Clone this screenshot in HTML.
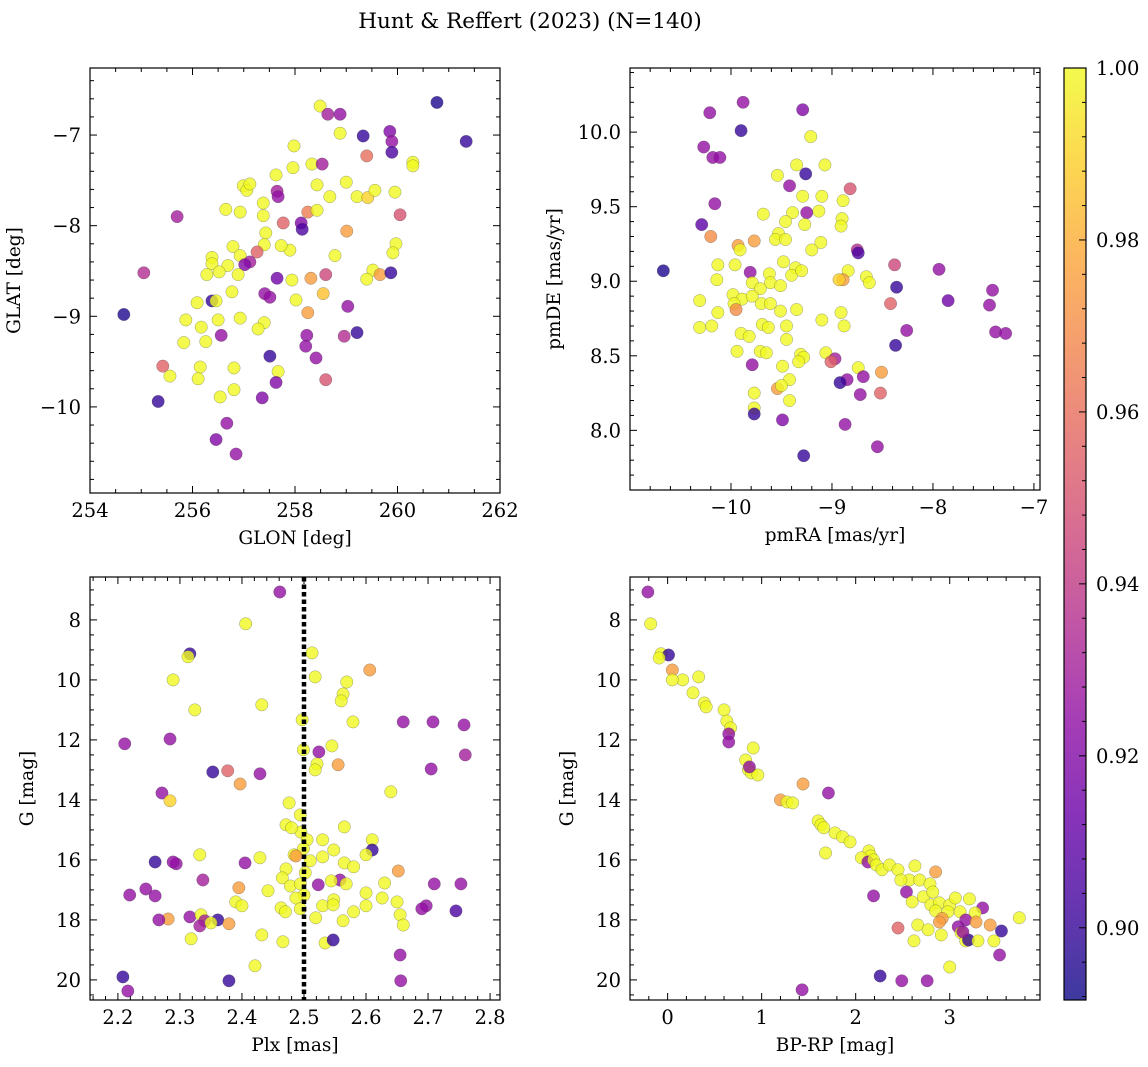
<!DOCTYPE html>
<html><head><meta charset="utf-8"><style>
html,body{margin:0;padding:0;background:#fff;}
svg{display:block;font-family:"DejaVu Serif","Liberation Serif",serif;}
</style></head><body>
<svg id="fig" width="1148" height="1067" viewBox="0 0 1148 1067" xmlns="http://www.w3.org/2000/svg">
<text x="530" y="28" font-size="21.5" text-anchor="middle">Hunt &amp; Reffert (2023) (N=140)</text>
</svg>
<script>
// ---- data (value, value, membership probability) ----
const posData=[[260.77,-6.64,.895],[261.34,-7.07,.90],[258.49,-6.68,1],[258.64,-6.77,.93],[258.88,-6.77,.925],[259.33,-7.01,.90],[259.85,-6.96,.92],[259.89,-7.07,.925],[259.89,-7.19,.905],[258.88,-6.98,1],[259.40,-7.23,.96],[257.98,-7.12,1],[258.33,-7.32,1],[258.53,-7.32,.93],[259.00,-7.52,1],[258.68,-7.68,1],[259.21,-7.68,1],[259.42,-7.69,.99],[259.56,-7.61,1],[259.95,-7.63,1],[260.30,-7.30,1],[260.30,-7.34,1],[256.99,-7.56,1],[257.06,-7.61,1],[257.12,-7.54,1],[257.65,-7.62,.93],[257.96,-7.36,1],[257.63,-7.44,1],[258.43,-7.55,1],[258.25,-7.85,.965],[258.43,-7.83,1],[259.01,-8.06,.975],[257.67,-7.68,.925],[257.38,-7.75,1],[257.77,-7.97,.955],[258.12,-7.97,.92],[257.38,-7.89,1],[256.93,-7.85,1],[257.43,-8.08,1],[256.65,-7.82,1],[260.05,-7.88,.95],[255.70,-7.90,.93],[258.14,-8.04,.905],[257.40,-8.21,1],[257.90,-8.27,1],[256.79,-8.23,1],[256.69,-8.44,1],[256.93,-8.33,1],[257.26,-8.29,.955],[257.12,-8.40,.93],[256.38,-8.35,1],[256.38,-8.42,1],[257.02,-8.43,.92],[256.28,-8.54,1],[256.52,-8.51,1],[257.73,-8.22,1],[256.89,-8.54,1],[258.78,-8.33,1],[259.97,-8.20,1],[259.91,-8.30,1],[259.52,-8.49,1],[259.66,-8.54,.975],[259.40,-8.59,1],[259.87,-8.52,.90],[256.77,-8.73,1],[257.65,-8.58,.915],[257.94,-8.60,1],[258.31,-8.58,.975],[258.55,-8.75,.985],[258.60,-8.54,.945],[257.41,-8.75,.925],[257.51,-8.79,.925],[256.38,-8.83,.90],[256.46,-8.83,1],[256.50,-9.04,1],[256.93,-9.02,1],[257.40,-9.07,1],[257.28,-9.14,1],[258.02,-8.82,1],[258.25,-8.96,.975],[258.23,-9.21,.925],[258.21,-9.33,.925],[259.03,-8.89,.925],[259.21,-9.18,.90],[258.96,-9.22,.935],[258.41,-9.46,.925],[258.60,-9.70,.95],[255.87,-9.04,1],[256.09,-8.85,1],[256.17,-9.12,1],[256.26,-9.28,1],[256.56,-9.21,.925],[256.15,-9.56,1],[256.11,-9.69,1],[255.83,-9.29,1],[255.42,-9.55,.955],[255.56,-9.66,1],[257.67,-9.61,1],[257.63,-9.73,.92],[257.51,-9.44,.90],[257.36,-9.90,.92],[256.81,-9.57,1],[256.54,-9.89,1],[256.81,-9.81,1],[255.33,-9.94,.90],[256.46,-10.36,.92],[256.67,-10.18,.925],[256.85,-10.52,.925],[254.66,-8.98,.895],[255.05,-8.52,.935]];
const pmData=[[-10.67,9.07,.895],[-10.21,10.13,.925],[-9.88,10.20,.925],[-9.90,10.01,.90],[-10.27,9.90,.925],[-10.18,9.83,.925],[-10.11,9.83,.925],[-10.16,9.52,.925],[-10.29,9.38,.91],[-10.20,9.30,.97],[-9.29,10.15,.92],[-9.21,9.97,1],[-9.35,9.78,1],[-9.07,9.78,1],[-9.26,9.72,.90],[-9.54,9.71,1],[-8.82,9.62,.95],[-9.42,9.64,.925],[-8.89,9.54,1],[-9.10,9.57,1],[-9.29,9.57,1],[-9.13,9.47,1],[-9.68,9.45,1],[-9.25,9.46,.925],[-9.39,9.46,1],[-9.46,9.40,1],[-9.27,9.38,1],[-8.90,9.42,1],[-8.91,9.37,1],[-9.53,9.32,1],[-9.56,9.28,1],[-9.46,9.28,1],[-9.93,9.24,.975],[-9.77,9.27,.975],[-9.11,9.26,1],[-9.20,9.21,1],[-8.75,9.21,.935],[-8.74,9.19,.905],[-9.91,9.21,1],[-9.48,9.13,1],[-9.36,9.09,1],[-9.62,9.05,1],[-9.40,9.04,1],[-9.81,9.06,.925],[-10.13,9.11,1],[-9.96,9.11,1],[-9.30,9.07,1],[-8.84,9.07,1],[-8.66,9.03,1],[-8.38,9.11,.945],[-7.94,9.08,.925],[-8.89,9.01,.975],[-8.93,9.01,.99],[-8.63,8.99,1],[-9.61,8.99,1],[-9.79,8.99,1],[-10.14,9.01,1],[-9.71,8.95,1],[-9.51,8.97,1],[-8.36,8.96,.90],[-7.85,8.87,.915],[-9.98,8.91,1],[-9.89,8.88,1],[-9.70,8.85,1],[-8.42,8.85,.955],[-9.61,8.85,1],[-9.97,8.85,1],[-10.31,8.87,1],[-9.79,8.90,1],[-9.51,8.80,1],[-9.35,8.81,1],[-9.95,8.81,.97],[-8.91,8.79,1],[-9.69,8.71,1],[-9.63,8.69,1],[-9.45,8.70,1],[-9.10,8.74,1],[-8.88,8.70,1],[-10.13,8.79,1],[-10.31,8.69,1],[-9.90,8.65,1],[-9.82,8.63,1],[-9.45,8.61,1],[-10.19,8.70,1],[-9.71,8.53,1],[-9.94,8.53,1],[-9.65,8.52,1],[-9.06,8.52,1],[-9.31,8.51,1],[-9.28,8.49,1],[-8.26,8.67,.925],[-8.97,8.48,.93],[-9.01,8.46,.955],[-8.74,8.42,1],[-9.49,8.43,1],[-9.79,8.44,.925],[-9.33,8.46,1],[-8.51,8.39,.975],[-8.69,8.36,.925],[-8.85,8.34,.925],[-9.54,8.28,.975],[-8.37,8.57,.90],[-9.42,8.34,1],[-9.77,8.25,1],[-9.50,8.30,1],[-9.42,8.20,1],[-9.77,8.15,1],[-9.77,8.11,.90],[-8.92,8.32,.90],[-9.49,8.07,.92],[-8.72,8.24,.925],[-8.52,8.25,.955],[-8.87,8.04,.925],[-8.55,7.89,.925],[-9.28,7.83,.90],[-7.41,8.94,.925],[-7.44,8.84,.925],[-7.38,8.66,.925],[-7.28,8.65,.925]];
const plxData=[[2.461,7.07,.925],[2.406,8.13,1],[2.316,9.13,.90],[2.313,9.23,1],[2.513,9.1,1],[2.289,10.0,1],[2.518,9.9,1],[2.606,9.67,.975],[2.569,10.07,1],[2.563,10.47,1],[2.560,10.7,1],[2.324,11.0,1],[2.432,10.83,1],[2.497,11.33,1],[2.579,11.4,1],[2.660,11.4,.925],[2.708,11.4,.925],[2.758,11.5,.925],[2.211,12.13,.925],[2.284,11.97,.925],[2.499,12.33,1],[2.524,12.4,.925],[2.76,12.5,.93],[2.545,12.2,1],[2.521,12.8,1],[2.518,13.0,1],[2.555,12.83,.975],[2.353,13.07,.90],[2.377,13.03,.955],[2.429,13.13,.925],[2.705,12.97,.925],[2.397,13.47,.975],[2.271,13.77,.925],[2.284,14.03,.99],[2.476,14.1,1],[2.640,13.73,1],[2.494,14.5,1],[2.495,15.07,1],[2.471,14.83,1],[2.48,14.93,1],[2.565,14.9,1],[2.505,15.33,1],[2.53,15.33,1],[2.61,15.33,1],[2.548,15.67,1],[2.499,15.63,1],[2.61,15.67,.90],[2.332,15.83,1],[2.429,15.93,1],[2.26,16.07,.90],[2.294,16.13,.925],[2.289,16.07,.925],[2.405,16.1,.925],[2.484,15.83,1],[2.487,15.87,.975],[2.51,16.03,1],[2.53,15.9,1],[2.565,16.1,1],[2.6,15.83,1],[2.58,16.23,1],[2.652,16.37,.975],[2.471,16.3,1],[2.502,16.43,1],[2.558,16.67,.925],[2.337,16.67,.93],[2.465,16.6,1],[2.478,16.87,1],[2.494,16.8,1],[2.523,16.83,.925],[2.544,16.7,1],[2.568,16.8,1],[2.63,16.77,1],[2.71,16.8,.925],[2.753,16.8,.925],[2.245,16.97,.925],[2.219,17.17,.925],[2.26,17.2,.925],[2.395,16.93,.975],[2.442,17.03,1],[2.5,17.17,1],[2.487,17.27,1],[2.548,17.33,1],[2.6,17.1,1],[2.626,17.27,1],[2.65,17.4,1],[2.697,17.53,.925],[2.69,17.63,.925],[2.745,17.7,.905],[2.39,17.4,1],[2.4,17.53,1],[2.463,17.6,1],[2.494,17.63,1],[2.53,17.53,1],[2.547,17.5,1],[2.58,17.73,1],[2.6,17.53,1],[2.47,17.73,1],[2.655,17.83,1],[2.316,17.9,.925],[2.334,17.83,1],[2.281,17.97,.975],[2.266,18.0,.925],[2.34,18.03,.93],[2.361,18.0,.90],[2.332,18.2,.93],[2.35,18.1,1],[2.379,18.13,.975],[2.519,17.93,1],[2.563,18.03,1],[2.66,18.17,1],[2.318,18.63,1],[2.432,18.5,1],[2.534,18.77,1],[2.547,18.67,.90],[2.466,18.73,1],[2.655,19.17,.925],[2.421,19.53,1],[2.208,19.9,.90],[2.216,20.37,.925],[2.379,20.03,.90],[2.656,20.03,.925]];
const cmdData=[[-0.21,7.07,.925],[-0.18,8.13,1],[-0.07,9.13,1],[0.01,9.17,.90],[-0.09,9.27,1],[0.05,9.67,.975],[0.16,10.0,1],[0.05,10.0,1],[0.33,9.9,1],[0.27,10.43,1],[0.39,10.77,1],[0.41,10.9,1],[0.6,11.0,1],[0.63,11.37,1],[0.67,11.6,1],[0.65,11.8,.925],[0.65,12.07,.925],[0.91,12.27,1],[0.83,12.67,1],[0.86,13.0,1],[0.89,13.1,1],[0.96,13.17,1],[0.87,12.9,.925],[1.44,13.47,.975],[1.2,14.0,.975],[1.27,14.07,1],[1.33,14.1,1],[1.71,13.77,.925],[1.6,14.7,1],[1.63,14.83,1],[1.66,14.93,1],[1.78,15.1,1],[1.86,15.23,1],[1.94,15.4,1],[1.68,15.77,1],[2.14,15.7,1],[2.16,15.87,1],[2.06,15.93,1],[2.13,16.07,.925],[2.19,16.0,1],[2.22,16.17,1],[2.28,16.33,1],[2.36,16.17,1],[2.45,16.33,1],[2.19,17.2,.925],[2.63,16.2,1],[2.57,16.67,1],[2.48,16.67,1],[2.68,16.67,1],[2.54,17.07,.925],[2.79,16.8,1],[2.85,16.4,.975],[2.6,17.4,1],[2.72,17.23,1],[2.82,17.07,1],[2.8,17.5,1],[2.89,17.43,1],[3.0,17.5,1],[2.85,17.7,1],[3.06,17.27,1],[3.21,17.3,1],[3.35,17.6,.925],[3.11,17.73,1],[3.27,17.77,1],[2.98,17.73,1],[2.92,17.95,.975],[3.17,18.0,.925],[3.09,18.23,.925],[2.89,18.07,.975],[3.74,17.93,1],[3.43,18.17,.975],[3.28,18.07,.975],[2.45,18.27,.955],[2.66,18.17,1],[2.77,18.33,1],[2.91,18.5,1],[3.12,18.43,1],[3.17,18.7,1],[3.2,18.67,.90],[3.3,18.7,1],[3.47,18.7,1],[3.55,18.37,.90],[3.14,18.4,.925],[2.62,18.7,1],[3.53,19.17,.925],[3.0,19.57,1],[2.26,19.87,.90],[2.49,20.03,.925],[2.76,20.03,.925],[1.43,20.33,.925]];
const p1XTicks=[254,256,258,260,262];
const p1YTicks=[-7,-8,-9,-10];
const p2XTicks=[-10,-9,-8,-7];
const p2YTicks=[8.0,8.5,9.0,9.5,10.0];
const p3XTicks=[2.2,2.3,2.4,2.5,2.6,2.7,2.8];
const gTicks=[8,10,12,14,16,18,20];
const p4XTicks=[0,1,2,3];
const cbTicks=[0.90,0.92,0.94,0.96,0.98,1.00];
const plxCut=2.5;
const pMin=0.8916, pMax=1.0;

const NS='http://www.w3.org/2000/svg';
const svg=document.getElementById('fig');
const TFS=19.5, LFS=18.5;
function mk(tag,attrs,parent){const e=document.createElementNS(NS,tag);for(const k in attrs)e.setAttribute(k,attrs[k]);(parent||svg).appendChild(e);return e;}
const stops=[[13,8,135],[65,4,157],[106,0,168],[143,13,164],[177,42,144],[204,71,120],[225,100,98],[242,132,75],[252,166,54],[252,206,37],[240,249,33]];
function plasma(t){t=Math.max(0,Math.min(1,t));const f=t*10,i=Math.min(9,Math.floor(f)),r=f-i;const a=stops[i],b=stops[i+1];return 'rgb('+[0,1,2].map(k=>Math.round(a[k]+(b[k]-a[k])*r)).join(',')+')';}
function col(p){return plasma((p-pMin)/(pMax-pMin));}
function fmt(v,d){return (v<0?'\u2212':'')+Math.abs(v).toFixed(d);}

function panel(c){
  const g=mk('g',{});
  
  
  const sx=v=>c.px0+(v-c.xmin)/(c.xmax-c.xmin)*(c.px1-c.px0);
  const sy=v=>c.py1-(v-c.ybot)/(c.ytop-c.ybot)*(c.py1-c.py0);
  const pg=mk('g',{},g);
  
  
  c.data.forEach(d=>{
    const e=mk('circle',{cx:sx(d[0]),cy:sy(d[1]),r:6.2,fill:col(d[2]),'fill-opacity':0.8,stroke:'#444','stroke-opacity':0.5,'stroke-width':0.5},pg);
    
    
  });
  if(c.extra)c.extra(g,sx,sy);
  const tg=mk('g',{stroke:'#000','stroke-width':1},g);
  
  
  const lo=Math.min(c.xmin,c.xmax),hi=Math.max(c.xmin,c.xmax);
  for(let v=Math.ceil(lo/c.xminor-1e-6)*c.xminor;v<=hi+1e-9;v+=c.xminor){
    const x=sx(v);const maj=Math.abs(v/c.xmajor-Math.round(v/c.xmajor))<1e-6;const L=maj?7:4;
    mk('line',{x1:x,x2:x,y1:c.py1,y2:c.py1-L},tg);mk('line',{x1:x,x2:x,y1:c.py0,y2:c.py0+L},tg);
  }
  const ylo=Math.min(c.ybot,c.ytop),yhi=Math.max(c.ybot,c.ytop);
  for(let v=Math.ceil(ylo/c.yminor-1e-6)*c.yminor;v<=yhi+1e-9;v+=c.yminor){
    const y=sy(v);const maj=Math.abs(v/c.ymajor-Math.round(v/c.ymajor))<1e-6;const L=maj?7:4;
    mk('line',{x1:c.px0,x2:c.px0+L,y1:y,y2:y},tg);mk('line',{x1:c.px1,x2:c.px1-L,y1:y,y2:y},tg);
  }
  const fr=mk('rect',{x:c.px0,y:c.py0,width:c.px1-c.px0,height:c.py1-c.py0,fill:'none',stroke:'#000','stroke-width':1.2},g);
  
  
  c.xt.forEach(v=>{const t=mk('text',{x:sx(v),y:c.py1+24,'font-size':TFS,'text-anchor':'middle'},g);t.textContent=fmt(v,c.xd);
    
    });
  c.yt.forEach(v=>{const t=mk('text',{x:c.px0-9,y:sy(v)+7,'font-size':TFS,'text-anchor':'end'},g);t.textContent=fmt(v,c.yd);
    
    });
  const xl=mk('text',{x:(c.px0+c.px1)/2,y:c.py1+51,'font-size':LFS,'text-anchor':'middle'},g);xl.textContent=c.xlabel;
  
  
  const yx=c.px0-c.ylo, yy=(c.py0+c.py1)/2;
  const yl=mk('text',{x:yx,y:yy,'font-size':LFS,'text-anchor':'middle',transform:'rotate(-90 '+yx+' '+yy+')'},g);yl.textContent=c.ylabel;
  
  
}

panel({name:'glon-glat-panel',data:posData,px0:90,px1:500,py0:68,py1:493,xmin:254,xmax:262,ybot:-10.95,ytop:-6.26,xmajor:2,xminor:0.5,ymajor:1,yminor:0.2,xt:p1XTicks,yt:p1YTicks,xd:0,yd:0,xlabel:'GLON [deg]',ylabel:'GLAT [deg]',ylo:70});
panel({name:'proper-motion-panel',data:pmData,px0:630,px1:1040,py0:68,py1:490,xmin:-11.0,xmax:-6.94,ybot:7.60,ytop:10.43,xmajor:1,xminor:0.2,ymajor:0.5,yminor:0.1,xt:p2XTicks,yt:p2YTicks,xd:0,yd:1,xlabel:'pmRA [mas/yr]',ylabel:'pmDE [mas/yr]',ylo:70});
panel({name:'parallax-panel',data:plxData,px0:90,px1:500,py0:577,py1:1000,xmin:2.155,xmax:2.816,ybot:20.67,ytop:6.57,xmajor:0.1,xminor:0.02,ymajor:2,yminor:0.5,xt:p3XTicks,yt:gTicks,xd:1,yd:0,xlabel:'Plx [mas]',ylabel:'G [mag]',ylo:57,
  extra:(g,sx,sy)=>{const l=mk('line',{x1:sx(plxCut),x2:sx(plxCut),y1:577,y2:1000,stroke:'#000','stroke-width':4.5,'stroke-dasharray':'4.5 3'},g);
    
    }});
panel({name:'cmd-panel',data:cmdData,px0:630,px1:1040,py0:577,py1:1000,xmin:-0.40,xmax:3.96,ybot:20.67,ytop:6.57,xmajor:1,xminor:0.2,ymajor:2,yminor:0.5,xt:p4XTicks,yt:gTicks,xd:0,yd:0,xlabel:'BP-RP [mag]',ylabel:'G [mag]',ylo:57});

const cb=mk('g',{});


const defs=mk('defs',{},cb);
const lg=mk('linearGradient',{id:'cbg',x1:0,y1:1,x2:0,y2:0},defs);
for(let i=0;i<=20;i++)mk('stop',{offset:i/20,'stop-color':plasma(i/20)},lg);
const cbx0=1064,cbx1=1086,cby0=68,cby1=1000;
mk('rect',{x:cbx0,y:cby0,width:cbx1-cbx0,height:cby1-cby0,fill:'url(#cbg)','fill-opacity':0.8},cb);
mk('rect',{x:cbx0,y:cby0,width:cbx1-cbx0,height:cby1-cby0,fill:'none',stroke:'#000','stroke-width':1.2},cb);
const cy=v=>cby1-(v-pMin)/(pMax-pMin)*(cby1-cby0);
for(let v=0.892;v<=1.0001;v+=0.004){const y=cy(v);const maj=Math.abs(v/0.02-Math.round(v/0.02))<1e-4;mk('line',{x1:cbx1,x2:cbx1-(maj?7:4),y1:y,y2:y,stroke:'#000'},cb);}
cbTicks.forEach(v=>{const t=mk('text',{x:cbx1+10,y:cy(v)+7,'font-size':TFS},cb);t.textContent=v.toFixed(2);
  
  });
</script>
</body></html>
